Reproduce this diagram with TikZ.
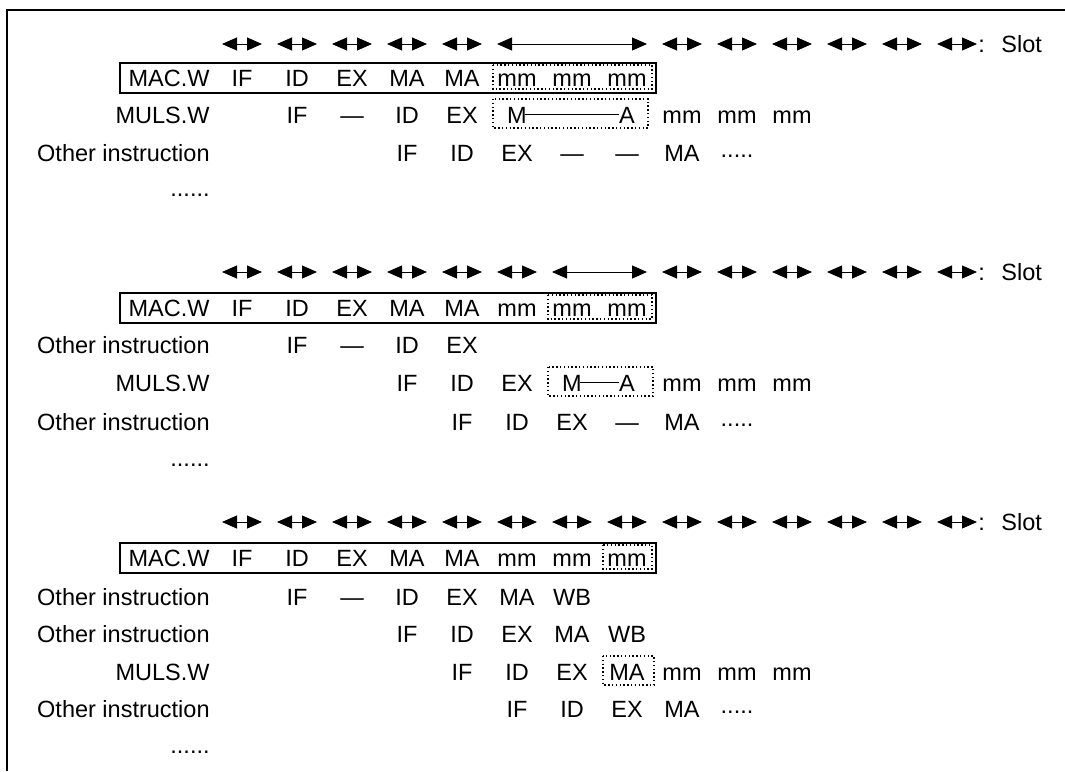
\documentclass[tikz,border=0pt]{standalone}
\usepackage{fontspec}
\setmainfont{Liberation Sans}
\usetikzlibrary{arrows.meta,positioning,calc}

\newcommand{\stagefont}{\fontsize{11.75}{14}\selectfont}
\newcommand{\tailmark}{\raisebox{1.8pt}{.....}}
\def\slotx{{0,242,297,352,407,462,517,572,627,682,737,792,847,902,957}}

% one row of stages: #1 row name, #2 baseline, #3 slot/text list
\newcommand{\stagerow}[3]{%
  \foreach \s/\t in {#3}{%
    \pgfmathsetmacro\xs{\slotx[\s]}
    \node[stage] (#1-\s) at (\xs,#2) {\t};
  }}

% slot markers: #1 row name, #2 height, #3 list of slots with a short arrow
\newcommand{\slotmarks}[3]{%
  \foreach \s in {1,...,14}{%
    \pgfmathsetmacro\xs{\slotx[\s]}
    \coordinate (#1-\s-l) at (\xs-20,#2);
    \coordinate (#1-\s-r) at (\xs+20,#2);
  }
  \foreach \s in {#3}
    \draw[slotarr] (#1-\s-l) -- (#1-\s-r);
  }

\begin{document}
\begin{tikzpicture}[
  x=0.5pt, y=-0.5pt,
  stage/.style={anchor=base, inner sep=0pt, text height=8.5pt, text depth=0pt, font=\stagefont},
  instr/.style={stage, anchor=base east},
  slotarr/.style={{Triangle[length=7.5pt,width=6.5pt]}-{Triangle[length=7.5pt,width=6.5pt]}, line width=0.5pt},
  rowbox/.style={draw, line width=0.8pt},
  busybox/.style={draw, line width=0.7pt, dash pattern=on 0.7pt off 1.2pt},
  busyline/.style={line width=0.9pt, shorten <=-1pt},
  frame/.style={line width=1.2pt},
]
  \useasboundingbox (0,0) rectangle (1065,771);
  \draw[frame] (7,771) -- (7,10) -- (1065,10);

  % first case
  \slotmarks{b1}{44}{1,...,5,9,10,...,14}
  \draw[slotarr] (b1-6-l) -- (b1-8-r);
  \node[stage, anchor=west] (b1-slot) at (978,44) {:\hspace{0.7em}Slot};

  \node[instr] (b1m-lbl) at (210,86) {MAC.W};
  \stagerow{b1m}{86}{1/IF,2/ID,3/EX,4/MA,5/MA,6/mm,7/mm,8/mm}
  \node[instr] (b1u-lbl) at (210,123) {MULS.W};
  \stagerow{b1u}{123}{2/IF,3/—,4/ID,5/EX,6/M,8/A,9/mm,10/mm,11/mm}
  \node[instr] (b1o-lbl) at (210,161) {Other instruction};
  \stagerow{b1o}{161}{4/IF,5/ID,6/EX,7/—,8/—,9/MA,10/\tailmark}
  \node[instr] (b1-more) at (210,196) {......};

  \draw[rowbox] ($(b1m-lbl.base west)+(-8,-23)$) rectangle ($(b1m-8.base)+(29,7)$);
  \draw[busybox] ($(b1m-6.base)+(-24,-21)$) rectangle ($(b1m-8.base)+(25,3)$);
  \draw[busybox] ($(b1u-6.base)+(-24,-24)$) rectangle ($(b1u-8.base)+(21,5)$);
  \draw[busyline] (b1u-6) -- (b1u-8);

  % second case
  \slotmarks{b2}{272}{1,...,6,9,10,...,14}
  \draw[slotarr] (b2-7-l) -- (b2-8-r);
  \node[stage, anchor=west] (b2-slot) at (978,272) {:\hspace{0.7em}Slot};

  \node[instr] (b2m-lbl) at (210,316) {MAC.W};
  \stagerow{b2m}{316}{1/IF,2/ID,3/EX,4/MA,5/MA,6/mm,7/mm,8/mm}
  \node[instr] (b2o-lbl) at (210,353) {Other instruction};
  \stagerow{b2o}{353}{2/IF,3/—,4/ID,5/EX}
  \node[instr] (b2u-lbl) at (210,391) {MULS.W};
  \stagerow{b2u}{391}{4/IF,5/ID,6/EX,7/M,8/A,9/mm,10/mm,11/mm}
  \node[instr] (b2p-lbl) at (210,430) {Other instruction};
  \stagerow{b2p}{430}{5/IF,6/ID,7/EX,8/—,9/MA,10/\tailmark}
  \node[instr] (b2-more) at (210,466) {......};

  \draw[rowbox] ($(b2m-lbl.base west)+(-8,-23)$) rectangle ($(b2m-8.base)+(29,7)$);
  \draw[busybox] ($(b2m-7.base)+(-24,-21)$) rectangle ($(b2m-8.base)+(25,3)$);
  \draw[busybox] ($(b2u-7.base)+(-24,-24)$) rectangle ($(b2u-8.base)+(26,5)$);
  \draw[busyline] (b2u-7) -- (b2u-8);

  % third case
  \slotmarks{b3}{522}{1,...,14}
  \node[stage, anchor=west] (b3-slot) at (978,522) {:\hspace{0.7em}Slot};

  \node[instr] (b3m-lbl) at (210,566) {MAC.W};
  \stagerow{b3m}{566}{1/IF,2/ID,3/EX,4/MA,5/MA,6/mm,7/mm,8/mm}
  \node[instr] (b3o-lbl) at (210,605) {Other instruction};
  \stagerow{b3o}{605}{2/IF,3/—,4/ID,5/EX,6/MA,7/WB}
  \node[instr] (b3p-lbl) at (210,642) {Other instruction};
  \stagerow{b3p}{642}{4/IF,5/ID,6/EX,7/MA,8/WB}
  \node[instr] (b3u-lbl) at (210,680) {MULS.W};
  \stagerow{b3u}{680}{5/IF,6/ID,7/EX,8/MA,9/mm,10/mm,11/mm}
  \node[instr] (b3q-lbl) at (210,717) {Other instruction};
  \stagerow{b3q}{717}{6/IF,7/ID,8/EX,9/MA,10/\tailmark}
  \node[instr] (b3-more) at (210,753) {......};

  \draw[rowbox] ($(b3m-lbl.base west)+(-8,-23)$) rectangle ($(b3m-8.base)+(29,7)$);
  \draw[busybox] ($(b3m-8.base)+(-24,-21)$) rectangle ($(b3m-8.base)+(25,3)$);
  \draw[busybox] ($(b3u-8.base)+(-24,-24)$) rectangle ($(b3u-8.base)+(27,5)$);
\end{tikzpicture}
\end{document}
